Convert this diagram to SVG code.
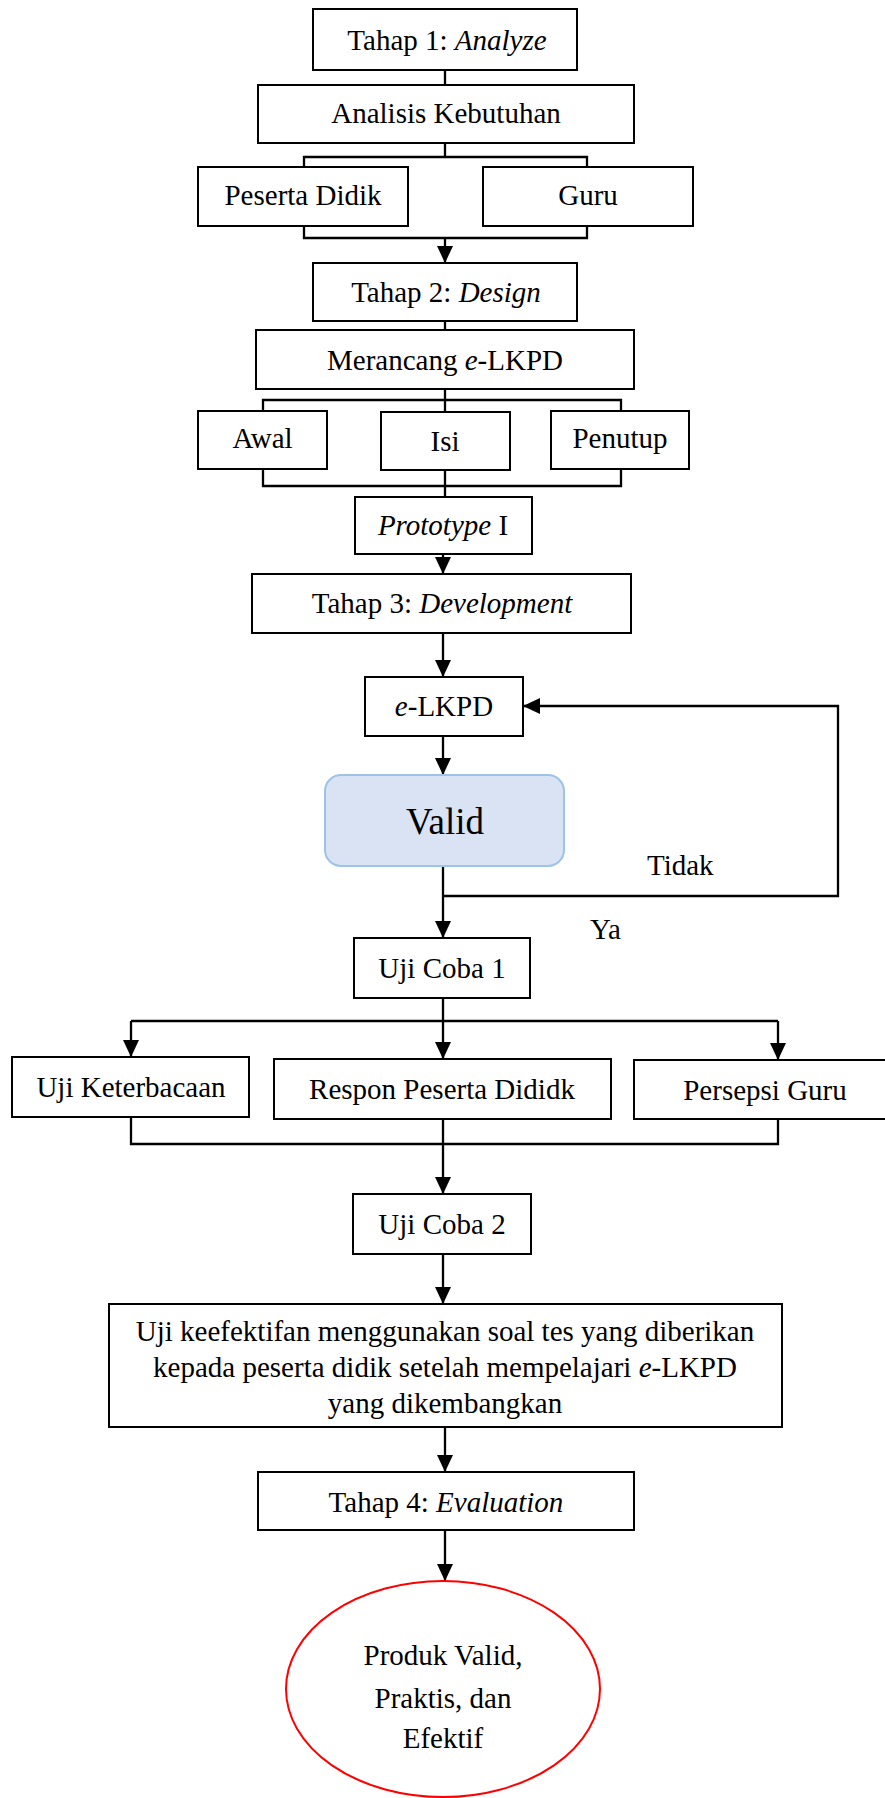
<svg xmlns="http://www.w3.org/2000/svg" width="885" height="1798" viewBox="0 0 885 1798">
<defs>
<marker id="ah" markerUnits="userSpaceOnUse" markerWidth="17" markerHeight="16" refX="17" refY="8" orient="auto">
<path d="M0,0 L17,8 L0,16 Z" fill="#000"/>
</marker>
<style>
.box{fill:#fff;stroke:#000;stroke-width:2}
.ln{fill:none;stroke:#000;stroke-width:2.3}
.arr{fill:none;stroke:#000;stroke-width:2.3;marker-end:url(#ah)}
text{font-family:"Liberation Serif","Times New Roman",serif;font-size:29px;fill:#000;text-anchor:middle}
.it{font-style:italic}
.lbl{text-anchor:start}
</style>
</defs>
<rect width="885" height="1798" fill="#fff"/>

<g id="connectors">
<line class="ln" x1="445" y1="70" x2="445" y2="85"/>
<polyline class="ln" points="445,143 445,157"/>
<polyline class="ln" points="304,167 304,157 587,157 587,167"/>
<polyline class="ln" points="304,226 304,238 587,238 587,226"/>
<line class="arr" x1="445" y1="238" x2="445" y2="263"/>
<line class="ln" x1="445" y1="321" x2="445" y2="330"/>
<line class="ln" x1="445" y1="389" x2="445" y2="412"/>
<polyline class="ln" points="263,411 263,400 621,400 621,411"/>
<polyline class="ln" points="263,469 263,486 621,486 621,469"/>
<line class="ln" x1="445" y1="470" x2="445" y2="497"/>
<line class="arr" x1="443" y1="554" x2="443" y2="574"/>
<line class="arr" x1="443" y1="633" x2="443" y2="677"/>
<line class="arr" x1="443" y1="736" x2="443" y2="775"/>
<line class="arr" x1="443" y1="866" x2="443" y2="938"/>
<polyline class="arr" points="443,896 838,896 838,706 523,706"/>
<line class="ln" x1="443" y1="998" x2="443" y2="1021"/>
<line class="ln" x1="131" y1="1021" x2="778" y2="1021"/>
<line class="arr" x1="131" y1="1021" x2="131" y2="1057"/>
<line class="arr" x1="443" y1="1021" x2="443" y2="1059"/>
<line class="arr" x1="778" y1="1021" x2="778" y2="1060"/>
<polyline class="ln" points="131,1117 131,1144 778,1144 778,1119"/>
<line class="arr" x1="443" y1="1119" x2="443" y2="1194"/>
<line class="arr" x1="443" y1="1254" x2="443" y2="1304"/>
<line class="arr" x1="445" y1="1427" x2="445" y2="1472"/>
<line class="arr" x1="445" y1="1530" x2="445" y2="1581"/>
</g>

<g id="n-tahap1"><rect class="box" x="313" y="9" width="264" height="61"/><text x="447" y="50">Tahap 1: <tspan class="it">Analyze</tspan></text></g>
<g id="n-analisis"><rect class="box" x="258" y="85" width="376" height="58"/><text x="446" y="123">Analisis Kebutuhan</text></g>
<g id="n-peserta"><rect class="box" x="198" y="167" width="210" height="59"/><text x="303" y="205">Peserta Didik</text></g>
<g id="n-guru"><rect class="box" x="483" y="167" width="210" height="59"/><text x="588" y="205">Guru</text></g>
<g id="n-tahap2"><rect class="box" x="313" y="263" width="264" height="58"/><text x="446" y="302">Tahap 2: <tspan class="it">Design</tspan></text></g>
<g id="n-merancang"><rect class="box" x="256" y="330" width="378" height="59"/><text x="445" y="370">Merancang <tspan class="it">e</tspan>-LKPD</text></g>
<g id="n-awal"><rect class="box" x="198" y="411" width="129" height="58"/><text x="262.5" y="448">Awal</text></g>
<g id="n-isi"><rect class="box" x="381" y="412" width="129" height="58"/><text x="445" y="451">Isi</text></g>
<g id="n-penutup"><rect class="box" x="551" y="411" width="138" height="58"/><text x="620" y="448">Penutup</text></g>
<g id="n-prototype"><rect class="box" x="355" y="497" width="177" height="57"/><text x="443" y="535"><tspan class="it">Prototype</tspan> I</text></g>
<g id="n-tahap3"><rect class="box" x="252" y="574" width="379" height="59"/><text x="442" y="613">Tahap 3: <tspan class="it">Development</tspan></text></g>
<g id="n-elkpd"><rect class="box" x="365" y="677" width="158" height="59"/><text x="444" y="716"><tspan class="it">e</tspan>-LKPD</text></g>
<g id="n-valid"><rect x="325" y="775" width="239" height="91" rx="16" ry="16" fill="#DAE3F3" stroke="#9DC3E6" stroke-width="2"/><text x="445" y="834" style="font-size:37px">Valid</text></g>
<g id="l-tidak"><text class="lbl" x="647" y="875">Tidak</text></g>
<g id="l-ya"><text class="lbl" x="590" y="939">Ya</text></g>
<g id="n-ujicoba1"><rect class="box" x="354" y="938" width="176" height="60"/><text x="442" y="978">Uji Coba 1</text></g>
<g id="n-keterbacaan"><rect class="box" x="12" y="1057" width="237" height="60"/><text x="131" y="1097">Uji Keterbacaan</text></g>
<g id="n-respon"><rect class="box" x="274" y="1059" width="337" height="60"/><text x="442" y="1099">Respon Peserta Dididk</text></g>
<g id="n-persepsi"><rect class="box" x="634" y="1060" width="253" height="59"/><text x="765" y="1100">Persepsi Guru</text></g>
<g id="n-ujicoba2"><rect class="box" x="353" y="1194" width="178" height="60"/><text x="442" y="1234">Uji Coba 2</text></g>
<g id="n-keefektifan"><rect class="box" x="109" y="1304" width="673" height="123"/>
<text x="445" y="1341">Uji keefektifan menggunakan soal tes yang diberikan</text>
<text x="445" y="1377">kepada peserta didik setelah mempelajari <tspan class="it">e</tspan>-LKPD</text>
<text x="445" y="1413">yang dikembangkan</text></g>
<g id="n-tahap4"><rect class="box" x="258" y="1472" width="376" height="58"/><text x="446" y="1512">Tahap 4: <tspan class="it">Evaluation</tspan></text></g>
<g id="n-produk"><ellipse cx="443" cy="1689" rx="157" ry="108" fill="#fff" stroke="#FF0000" stroke-width="2"/>
<text x="443" y="1665">Produk Valid,</text>
<text x="443" y="1708">Praktis, dan</text>
<text x="443" y="1748">Efektif</text></g>
</svg>
